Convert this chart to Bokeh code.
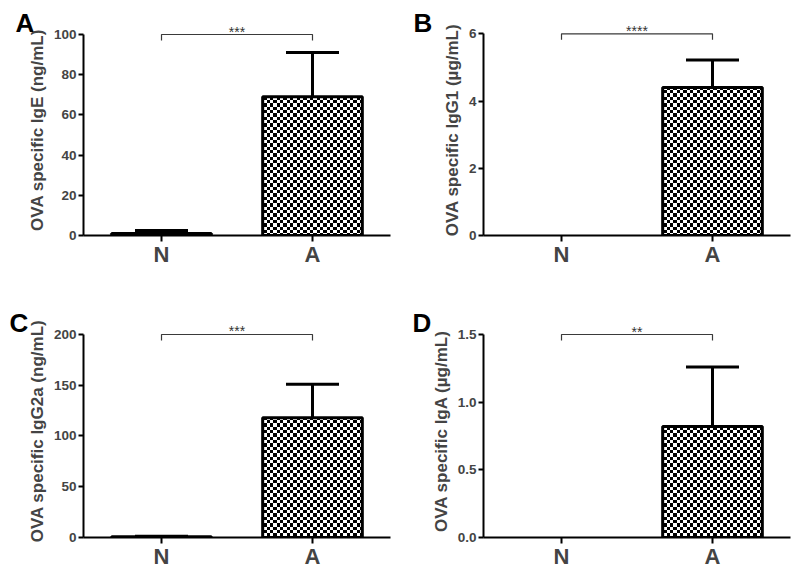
import zlib, struct, base64
from bokeh.plotting import figure
from bokeh.models import (FactorRange, Range1d, FixedTicker, Whisker, TeeHead, Title,
                          ColumnDataSource, ImageURLTexture, NumeralTickFormatter)
from bokeh.transform import dodge
from bokeh.layouts import column, row
from bokeh.embed import file_html
from bokeh.resources import INLINE
from bokeh.core.properties import value

# ---------------- data ----------------
groups = ["N", "A"]

ige_mean = [1.0, 69.0]
ige_sem = [1.5, 22.0]
igg1_mean = [0.0, 4.40]
igg1_sem = [0.0, 0.82]
igg2a_mean = [0.8, 118.0]
igg2a_sem = [0.4, 33.0]
iga_mean = [0.0, 0.82]
iga_sem = [0.0, 0.44]

ige_ticks = [0, 20, 40, 60, 80, 100]
igg1_ticks = [0, 2, 4, 6]
igg2a_ticks = [0, 50, 100, 150, 200]
iga_ticks = [0, 0.5, 1.0, 1.5]

panel_letters = ["A", "B", "C", "D"]
y_labels = ["OVA specific IgE (ng/mL)", "OVA specific IgG1 (\u00b5g/mL)",
            "OVA specific IgG2a (ng/mL)", "OVA specific IgA (\u00b5g/mL)"]
significance = ["***", "****", "***", "**"]
tick_formats = ["0", "0", "0", "0.0"]

FONT = "Liberation Sans"


def checker_png():
    """20x20 px checkerboard tile (6 cells of ~3.3 px each way)."""
    bounds = [0, 3, 7, 10, 13, 17, 20]
    size = bounds[-1]

    def cell(v):
        for k in range(len(bounds) - 1):
            if bounds[k] <= v < bounds[k + 1]:
                return k
        return 0
    raw = b""
    for yy in range(size):
        raw += b"\x00"
        for xx in range(size):
            black = (cell(xx) + cell(yy)) % 2 == 0
            raw += b"\x00\x00\x00\xff" if black else b"\xff\xff\xff\xff"

    def chunk(t, d):
        return struct.pack(">I", len(d)) + t + d + struct.pack(">I", zlib.crc32(t + d) & 0xffffffff)
    ihdr = struct.pack(">IIBBBBB", size, size, 8, 6, 0, 0, 0)
    png = (b"\x89PNG\r\n\x1a\n" + chunk(b"IHDR", ihdr) +
           chunk(b"IDAT", zlib.compress(raw)) + chunk(b"IEND", b""))
    return "data:image/png;base64," + base64.b64encode(png).decode()


CHECKER = checker_png()


def make_panel(letter, ylabel, means, sems, ticks, sig, fmt,
               width, height, y_end, bl, br, bt, bb, letter_offset, letter_standoff):
    p = figure(width=width, height=height, toolbar_location=None,
               output_backend="svg",
               x_range=FactorRange(factors=groups, range_padding=0.0166),
               y_range=Range1d(0, y_end),
               min_border_left=bl, min_border_right=br,
               min_border_top=bt, min_border_bottom=bb)
    p.title = Title(text=letter, align="left", vertical_align="bottom",
                    offset=letter_offset, standoff=letter_standoff,
                    text_font=FONT, text_font_size="26px", text_font_style="bold",
                    text_color="black")
    p.outline_line_color = None
    p.xgrid.grid_line_color = None
    p.ygrid.grid_line_color = None
    p.background_fill_color = "white"
    p.border_fill_color = "white"

    bar_idx = [i for i, m in enumerate(means) if m > 0]
    bar_src = ColumnDataSource(dict(cat=[groups[i] for i in bar_idx],
                                    mean=[means[i] for i in bar_idx]))
    p.vbar(x="cat", top="mean", bottom=0, width=0.66, source=bar_src,
           fill_color="white", line_color="black", line_width=3,
           hatch_pattern=value("checker"),
           hatch_extra={"checker": ImageURLTexture(url=CHECKER)},
           hatch_color="black", hatch_scale=20)

    err_idx = [i for i, s in enumerate(sems) if s > 0]
    err_src = ColumnDataSource(dict(cat=[groups[i] for i in err_idx],
                                    lower=[means[i] for i in err_idx],
                                    upper=[means[i] + sems[i] for i in err_idx]))
    w = Whisker(source=err_src, base="cat", lower="lower", upper="upper",
                dimension="height", line_width=3, line_color="black",
                upper_head=TeeHead(size=53, line_width=3, line_color="black"),
                lower_head=None)
    p.add_layout(w)

    top = ticks[-1]
    d = 0.03 * top
    p.line(x=[groups[0], groups[0], groups[1], groups[1]],
           y=[top - d, top, top, top - d], line_color="#3a3a3a", line_width=1.2)
    sig_src = ColumnDataSource(dict(cat=[groups[0]], y=[top], t=[sig]))
    p.text(x=dodge("cat", 0.5, range=p.x_range), y="y", text="t", source=sig_src,
           text_align="center", text_baseline="alphabetic", y_offset=-3,
           text_font=value(FONT), text_font_size="14px", text_color="#333333")

    ya = p.yaxis[0]
    ya.ticker = FixedTicker(ticks=ticks)
    ya.bounds = (ticks[0], ticks[-1])
    ya.formatter = NumeralTickFormatter(format=fmt)
    ya.axis_label = ylabel
    ya.axis_label_text_font = FONT
    ya.axis_label_text_font_size = "17px"
    ya.axis_label_text_font_style = "bold"
    ya.axis_label_standoff = 4
    ya.major_label_text_font = FONT
    ya.major_label_text_font_size = "13.5px"
    ya.major_label_text_font_style = "bold"
    ya.major_label_standoff = 2
    ya.axis_line_width = 2
    ya.major_tick_line_width = 2
    ya.major_tick_out = 5
    ya.major_tick_in = 0
    ya.minor_tick_line_color = None

    xa = p.xaxis[0]
    xa.major_label_text_font = FONT
    xa.major_label_text_font_size = "22px"
    xa.major_label_text_font_style = "bold"
    xa.major_label_standoff = 0
    xa.axis_line_width = 2
    xa.major_tick_line_width = 2
    xa.major_tick_out = 6
    xa.major_tick_in = 0
    xa.minor_tick_line_color = None
    return p


p1 = make_panel(panel_letters[0], y_labels[0], ige_mean, ige_sem, ige_ticks,
                significance[0], tick_formats[0], 400, 300, 104.98, 83, 10, 24, 65, -68, -27)
p2 = make_panel(panel_letters[1], y_labels[1], igg1_mean, igg1_sem, igg1_ticks,
                significance[1], tick_formats[1], 396, 300, 6.277, 83, 6, 24, 65, -70, -27)
p3 = make_panel(panel_letters[2], y_labels[2], igg2a_mean, igg2a_sem, igg2a_ticks,
                significance[2], tick_formats[2], 400, 272, 209.85, 83, 10, 24, 35, -74, -27)
p4 = make_panel(panel_letters[3], y_labels[3], iga_mean, iga_sem, iga_ticks,
                significance[3], tick_formats[3], 396, 272, 1.574, 83, 6, 24, 35, -71, -27)

layout = column(row(p1, p2), row(p3, p4))
open("out.html", "w").write(file_html(layout, INLINE))
